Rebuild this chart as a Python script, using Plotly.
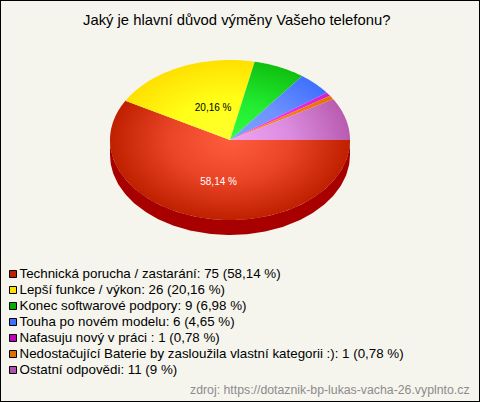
import numpy as np
import plotly.graph_objects as go

title = "Jaký je hlavní důvod výměny Vašeho telefonu?"
source = "zdroj: https://dotaznik-bp-lukas-vacha-26.vyplnto.cz"
categories = ["Technická porucha / zastarání", "Lepší funkce / výkon", "Konec softwarové podpory",
              "Touha po novém modelu", "Nafasuju nový v práci ",
              "Nedostačující Baterie by zasloužila vlastní kategorii :)", "Ostatní odpovědi"]
counts = [75, 26, 9, 6, 1, 1, 11]
percent_labels = ["58,14", "20,16", "6,98", "4,65", "0,78", "0,78", "9"]
centre_colors = ["#ff5c3e", "#ffff30", "#30ff40", "#80a4ff", "#ff40ff", "#ff9020", "#f0a4f4"]
mid_colors = ["#ea4526", "#ffff18", "#22ea30", "#6e92ff", "#f030f0", "#f88018", "#dc8ce0"]
edge_colors = ["#bf2000", "#ffe000", "#10c010", "#4070ff", "#d020d0", "#e87000", "#b85cb0"]
swatch_colors = ["#c02000", "#ffe000", "#00b000", "#4070ff", "#c000c0", "#e07000", "#b050b0"]

CX, CY, RX, RY, DEPTH = 230, 140, 120, 80, 15
BG = "#f5f5ee"
fig = go.Figure()

total = sum(counts)
cum = np.cumsum([0] + counts) / total * 2 * np.pi


def pt(a, k=1.0, dy=0.0):
    return CX + RX * k * np.cos(a), CY + RY * k * np.sin(a) + dy


# side wall: the part of the first slice that faces the viewer
a = np.linspace(0, np.pi, 181)
xt, yt = pt(a)
xb, yb = pt(a, dy=DEPTH)
fig.add_trace(go.Scatter(x=np.r_[xb, xt[::-1]], y=np.r_[yb, yt[::-1]], mode="lines", fill="toself",
                         fillcolor="#a80000", line=dict(width=0), hoverinfo="skip"))

# top face, with zero-area spikes so that each fill's box is the whole ellipse
for i in range(len(counts)):
    a = np.linspace(cum[i], cum[i + 1], max(3, int((cum[i + 1] - cum[i]) * 60)))
    ax, ay = pt(a)
    xs, ys = [CX], [CY]
    for q in (0, np.pi / 2, np.pi, 3 * np.pi / 2):
        ex, ey = pt(q)
        xs += [ex, CX]
        ys += [ey, CY]
    xs += list(ax) + [CX]
    ys += list(ay) + [CY]
    fig.add_trace(go.Scatter(x=xs, y=ys, mode="lines", fill="toself", line=dict(width=0, simplify=False),
                             fillgradient=dict(type="radial",
                                               colorscale=[[0, centre_colors[i]], [0.5, mid_colors[i]],
                                                           [1, edge_colors[i]]]),
                             hoverinfo="skip"))

# slice labels
label_idx = [0, 1]
label_k = [0.54, 0.44]
label_colors = ["#ffffff", "#000000"]
for i, k, c in zip(label_idx, label_k, label_colors):
    lx, ly = pt((cum[i] + cum[i + 1]) / 2, k)
    fig.add_trace(go.Scatter(x=[lx + 5], y=[ly + 1], mode="text", text=[percent_labels[i] + " %"],
                             textposition="middle center", hoverinfo="skip",
                             textfont=dict(family="Liberation Sans, Arial", size=10, color=c)))

# legend
row_y = [274 + 16 * i for i in range(len(categories))]
fig.add_trace(go.Scatter(x=[13] * len(categories), y=row_y, mode="markers", hoverinfo="skip",
                         marker=dict(symbol="square", size=7, color=swatch_colors,
                                     line=dict(color="#000000", width=1))))
fig.add_trace(go.Scatter(x=[19.5] * len(categories), y=[r + 1 for r in row_y], mode="text", hoverinfo="skip",
                         text=[f"{c}: {n} ({p} %)" for c, n, p in zip(categories, counts, percent_labels)],
                         textposition="middle right",
                         textfont=dict(family="Liberation Sans, Arial", size=13.35, color="#000000")))

fig.add_annotation(x=236, y=20, xref="x", yref="y", text=title, showarrow=False,
                   font=dict(family="Liberation Sans, Arial", size=14.8, color="#000000"))
fig.add_annotation(x=472, y=390, xref="x", yref="y", text=source, showarrow=False, xanchor="right",
                   font=dict(family="Liberation Sans, Arial", size=12.3, color="#8c8c8c"))

fig.update_layout(width=480, height=402, margin=dict(l=0, r=0, t=0, b=0), showlegend=False,
                  paper_bgcolor=BG, plot_bgcolor=BG,
                  xaxis=dict(range=[0, 480], visible=False, fixedrange=True),
                  yaxis=dict(range=[402, 0], visible=False, fixedrange=True),
                  shapes=[dict(type="rect", xref="paper", yref="paper", x0=0, y0=0, x1=1, y1=1,
                               line=dict(color="#000000", width=2), layer="above")])
fig.write_html("out.html", config=dict(displayModeBar=False),
               post_script="document.body.style.margin='0';document.body.style.overflow='hidden';")
